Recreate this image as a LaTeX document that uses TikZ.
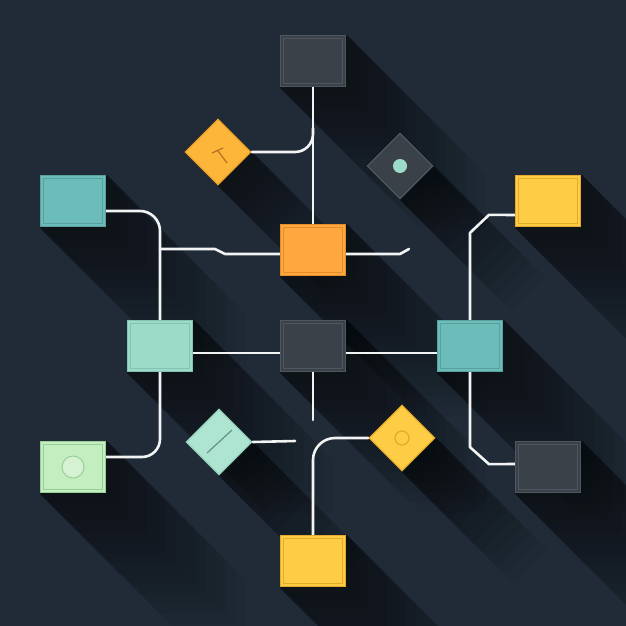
\documentclass[tikz,border=0pt]{standalone}
\usetikzlibrary{shapes.geometric,calc}
\definecolor{bgcol}{HTML}{212B38}
\definecolor{darkfill}{HTML}{3A4149}
\definecolor{darkedge}{HTML}{4E5760}
\definecolor{tealfill}{HTML}{6CBDB9}
\definecolor{tealedge}{HTML}{58A19F}
\definecolor{mintfill}{HTML}{9DDBC9}
\definecolor{mintedge}{HTML}{84C2B1}
\definecolor{greenfill}{HTML}{C3EEC0}
\definecolor{greenedge}{HTML}{9ACD98}
\definecolor{yellowfill}{HTML}{FFCC46}
\definecolor{yellowedge}{HTML}{E3AA2C}
\definecolor{orangefill}{HTML}{FFA83F}
\definecolor{orangeedge}{HTML}{E48D2A}
\definecolor{odfill}{HTML}{FDB53A}
\definecolor{odedge}{HTML}{E39E2A}
\definecolor{mdfill}{HTML}{AEE5D2}
\definecolor{mdedge}{HTML}{95CDB9}
\definecolor{wirecol}{HTML}{F2F4F4}
\pgfdeclarelayer{bg}
\pgfdeclarelayer{shd}
\pgfdeclarelayer{wir}
\pgfsetlayers{bg,shd,wir,main}
\begin{document}
\begin{tikzpicture}[x=1pt,y=-1pt,
	box/.style 2 args={rectangle,minimum width=65pt,minimum height=51pt,inner sep=0pt,line width=1.3pt,fill=#1,draw=#2,
		path picture={\draw[#2,line width=0.8pt] ([shift={(3pt,-3pt)}]path picture bounding box.north west) rectangle ([shift={(-3pt,3pt)}]path picture bounding box.south east);}},
	gem/.style 2 args={diamond,aspect=1,minimum width=66pt,minimum height=66pt,inner sep=0pt,line width=1.3pt,fill=#1,draw=#2},
	wire/.style={draw=wirecol,line width=2.6pt,line cap=round,line join=round},
	longshadow/.style={fill=black,fill opacity=0.045}]
		\begin{pgfonlayer}{bg}
			\fill[bgcol] (0,0) rectangle (626,626);
		\end{pgfonlayer}
		\useasboundingbox (0,0) rectangle (626,626);
		\clip (0,0) rectangle (626,626);
		
		\node[box={darkfill}{darkedge}] (top) at (313,61){};
		\node[box={orangefill}{orangeedge}] (orange) at (313,250){};
		\node[box={tealfill}{tealedge}] (tealL) at (73,201){};
		\node[box={yellowfill}{yellowedge}] (yTR) at (548,201){};
		\node[box={mintfill}{mintedge}] (mintL) at (160,346){};
		\node[box={darkfill}{darkedge}] (darkC) at (313,346){};
		\node[box={tealfill}{tealedge}] (tealR) at (470,346){};
		\node[box={greenfill}{greenedge}] (greenB) at (73,467){};
		\node[box={darkfill}{darkedge}] (dBR) at (548,467){};
		\node[box={yellowfill}{yellowedge}] (yB) at (313,561){};
		
		\node[gem={odfill}{odedge}] (od) at (218,152){};
		\node[gem={darkfill}{darkedge}] (dd) at (400,166){};
		\node[gem={mdfill}{mdedge}] (md) at (219,442){};
		\node[gem={yellowfill}{yellowedge}] (yd) at (402,438){};
		
		\draw[orangeedge!80!black,line width=1.2pt] ([shift={(-6,1)}]od.center) -- ([shift={(5,-4)}]od.center);
		\draw[orangeedge!80!black,line width=1.2pt] ([shift={(0,-1)}]od.center) -- ([shift={(9,11)}]od.center);
		\fill[mintfill] (dd.center) circle (7pt);
		\draw[mdedge!70!black,line width=1.2pt] ([shift={(-12,11)}]md.center) -- ([shift={(13,-12)}]md.center);
		\draw[yellowedge,line width=1.2pt] (yd.center) circle (7pt);
		\draw[greenedge,fill=greenfill!70!white,line width=1pt] (greenB.center) circle (11pt);
		
		\begin{pgfonlayer}{shd}
			\foreach \L in {10,20,...,140}{
				\foreach \b in {top,orange,tealL,yTR,mintL,darkC,tealR,greenB,dBR,yB}{
					\fill[longshadow] (\b.north east) -- ($(\b.north east)+(\L,\L)$) -- ($(\b.south east)+(\L,\L)$)
						-- ($(\b.south west)+(\L,\L)$) -- (\b.south west) -- cycle;
				}
				\foreach \d in {od,dd,md,yd}{
					\fill[longshadow] (\d.north) -- ($(\d.east)+(0.8*\L,0.8*\L)$) -- ($(\d.south)+(0.8*\L,0.8*\L)$) -- (\d.west) -- cycle;
				}
			}
		\end{pgfonlayer}
		
		\coordinate (j1) at (313,128);
		\coordinate (j2) at (160,249);
		\coordinate (e1) at (409,249);
		\coordinate (e2) at (313,420);
		\coordinate (e3) at (295,441);
		
		\begin{pgfonlayer}{wir}
			\draw[wire] (top.south) -- (orange.north);
			\draw[wire,rounded corners=18pt] (od.east) -| (j1);
			\draw[wire] (j2) -- (215,249) -- (225,254) -- ([yshift=-4pt]orange.west);
			\draw[wire] ([yshift=-4pt]orange.east) -- (400,254) -- (e1);
			\draw[wire,rounded corners=20pt] ([yshift=-10pt]tealL.east) -| (mintL.north);
			\draw[wire,rounded corners=18pt] (mintL.south) |- ([yshift=10pt]greenB.east);
			\draw[wire] ([yshift=-7pt]mintL.east) -- ([yshift=-7pt]darkC.west);
			\draw[wire] ([yshift=-7pt]darkC.east) -- ([yshift=-7pt]tealR.west);
			\draw[wire] (darkC.south) -- (e2);
			\draw[wire] (md.east) -- (e3);
			\draw[wire,rounded corners=22pt] (yd.west) -| (yB.north);
			\draw[wire] (tealR.north) -- ++(0,-87) -- ++(19,-18) -- ([yshift=-14pt]yTR.west);
			\draw[wire] (tealR.south) -- ++(0,75) -- ++(19,17) -- ([yshift=3pt]dBR.west);
		\end{pgfonlayer}
\end{tikzpicture}
\end{document}
